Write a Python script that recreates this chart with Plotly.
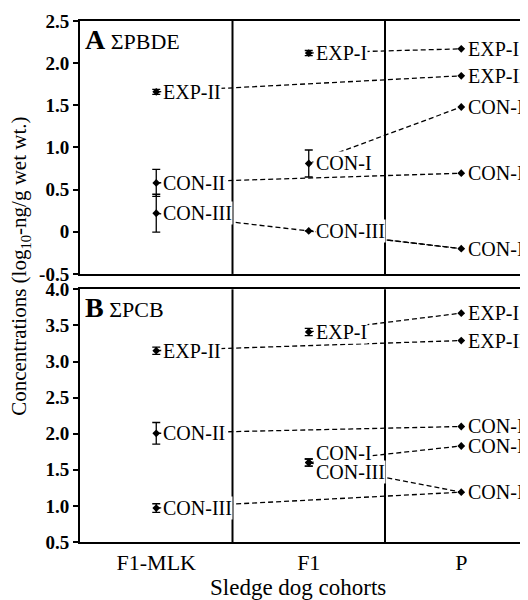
import plotly.graph_objects as go

# ---------------- data ----------------
cohorts = ["F1-MLK", "F1", "P"]

# Panel A: sum PBDE (log10 ng/g wet wt.)
pbde_f1mlk_labels = ["EXP-II", "CON-II", "CON-III"]
pbde_f1mlk_mean = [1.66, 0.58, 0.22]
pbde_f1mlk_err = [0.03, 0.16, 0.225]

pbde_f1_labels = ["EXP-I", "CON-I", "CON-III"]
pbde_f1_mean = [2.12, 0.81, 0.01]
pbde_f1_err = [0.03, 0.16, float("nan")]

pbde_p_labels = ["EXP-I", "EXP-II", "CON-I", "CON-II", "CON-III"]
pbde_p_mean = [2.17, 1.85, 1.48, 0.695, -0.20]

# Panel B: sum PCB (log10 ng/g wet wt.)
pcb_f1mlk_labels = ["EXP-II", "CON-II", "CON-III"]
pcb_f1mlk_mean = [3.15, 2.005, 0.97]
pcb_f1mlk_err = [0.05, 0.15, 0.06]

pcb_f1_labels = ["EXP-I", "CON-I", "CON-III"]
pcb_f1_mean = [3.41, 1.60, 1.60]
pcb_f1_err = [0.05, 0.05, 0.05]

pcb_p_labels = ["EXP-I", "EXP-II", "CON-I", "CON-II", "CON-III"]
pcb_p_mean = [3.67, 3.29, 1.83, 2.10, 1.19]

pbde_ticks = [2.5, 2.0, 1.5, 1.0, 0.5, 0, -0.5]
pbde_ticktext = ["2.5", "2.0", "1.5", "1.0", "0.5", "0", "-0.5"]
pcb_ticks = [4.0, 3.5, 3.0, 2.5, 2.0, 1.5, 1.0, 0.5]
pcb_ticktext = ["4.0", "3.5", "3.0", "2.5", "2.0", "1.5", "1.0", "0.5"]

# label vertical offsets (px) where labels are stacked
pcb_f1_label_shift = [0, 9.5, -9.5]

FONT = "Liberation Serif"
fig = go.Figure()


def add_panel(xa, ya, mlk_l, mlk_m, mlk_e, f1_l, f1_m, f1_e, p_l, p_m, f1_shift=None):
    p_lookup = dict(zip(p_l, p_m))
    # dashed connecting lines to P
    for ci, (labs, means) in enumerate([(mlk_l, mlk_m), (f1_l, f1_m)]):
        for lab, m in zip(labs, means):
            fig.add_trace(go.Scatter(
                x=[cohorts[ci], cohorts[2]], y=[m, p_lookup[lab]],
                xaxis=xa, yaxis=ya, mode="lines",
                line=dict(color="black", width=1.3, dash="5px,3px"),
                showlegend=False, hoverinfo="skip"))
    # points with error bars
    for ci, (means, errs) in enumerate([(mlk_m, mlk_e), (f1_m, f1_e)]):
        fig.add_trace(go.Scatter(
            x=[cohorts[ci]] * len(means), y=means, xaxis=xa, yaxis=ya,
            mode="markers", marker=dict(symbol="diamond", size=6, color="black"),
            error_y=dict(type="data", array=errs, color="black", thickness=1.3, width=4),
            showlegend=False))
    fig.add_trace(go.Scatter(
        x=[cohorts[2]] * len(p_m), y=p_m, xaxis=xa, yaxis=ya,
        mode="markers", marker=dict(symbol="diamond", size=6, color="black"),
        showlegend=False))
    # labels
    groups = [(0, mlk_l, mlk_m, [0] * len(mlk_l)),
              (1, f1_l, f1_m, f1_shift or [0] * len(f1_l)),
              (2, p_l, p_m, [0] * len(p_l))]
    for ci, labs, means, shifts in groups:
        for lab, m, s in zip(labs, means, shifts):
            fig.add_annotation(
                x=ci, y=m, xref=xa, yref=ya, text=lab, showarrow=False,
                xanchor="left", yanchor="middle", xshift=6, yshift=s,
                bgcolor="white", borderpad=0,
                font=dict(family=FONT, size=20, color="black"))


add_panel("x", "y", pbde_f1mlk_labels, pbde_f1mlk_mean, pbde_f1mlk_err,
          pbde_f1_labels, pbde_f1_mean, pbde_f1_err, pbde_p_labels, pbde_p_mean)
add_panel("x2", "y2", pcb_f1mlk_labels, pcb_f1mlk_mean, pcb_f1mlk_err,
          pcb_f1_labels, pcb_f1_mean, pcb_f1_err, pcb_p_labels, pcb_p_mean,
          pcb_f1_label_shift)

XR = [-0.5, 2.4377]
xax = dict(type="category", categoryorder="array", categoryarray=cohorts,
           range=XR, showline=True, mirror=True, linewidth=2, linecolor="black",
           ticks="", showgrid=False, zeroline=False, fixedrange=True)
yax = dict(showline=True, linewidth=2, linecolor="black", ticks="outside",
           ticklen=5, tickwidth=2, tickcolor="black", showgrid=False, zeroline=False,
           tickfont=dict(family=FONT, size=19, color="black", weight="bold"))

# page body has an 8px margin; size the figure so it fills the 528x600 window
fig.update_layout(
    width=520, height=592,
    margin=dict(l=72, r=0, t=13, b=58),
    plot_bgcolor="white", paper_bgcolor="white",
    xaxis=dict(xax, anchor="y", showticklabels=False),
    xaxis2=dict(xax, anchor="y2", showticklabels=True,
                tickfont=dict(family=FONT, size=22, color="black")),
    yaxis=dict(yax, domain=[0.5145, 1.0], range=[-0.5, 2.5],
               tickvals=pbde_ticks, ticktext=pbde_ticktext, anchor="x"),
    yaxis2=dict(yax, domain=[0.0, 0.485], range=[0.5, 4.0],
                tickvals=pcb_ticks, ticktext=pcb_ticktext, anchor="x2"),
)

# cohort separators
for xa, ya in [("x", "y"), ("x2", "y2")]:
    for xv in [0.5, 1.5]:
        fig.add_shape(type="line", x0=xv, x1=xv, y0=0, y1=1, xref=xa,
                      yref=ya + " domain", line=dict(color="black", width=2))

# panel labels
fig.add_annotation(x=0.006, y=0.998, xref="x domain", yref="y domain",
                   xanchor="left", yanchor="top", showarrow=False,
                   text='<b><span style="font-size:28px">A</span></b> ΣPBDE',
                   font=dict(family=FONT, size=22, color="black"))
fig.add_annotation(x=0.006, y=0.998, xref="x2 domain", yref="y2 domain",
                   xanchor="left", yanchor="top", showarrow=False,
                   text='<b><span style="font-size:28px">B</span></b> ΣPCB',
                   font=dict(family=FONT, size=22, color="black"))

# axis titles
fig.add_annotation(x=-0.134, y=0.53, xref="paper", yref="paper", textangle=-90,
                   xanchor="center", yanchor="middle", showarrow=False,
                   text="Concentrations (log<sub>10</sub>-ng/g wet wt.)",
                   font=dict(family=FONT, size=21, color="black"))
fig.add_annotation(x=0.487, y=-0.087, xref="paper", yref="paper",
                   xanchor="center", yanchor="middle", showarrow=False,
                   text="Sledge dog cohorts",
                   font=dict(family=FONT, size=23, color="black"))

fig.write_html("out.html")
